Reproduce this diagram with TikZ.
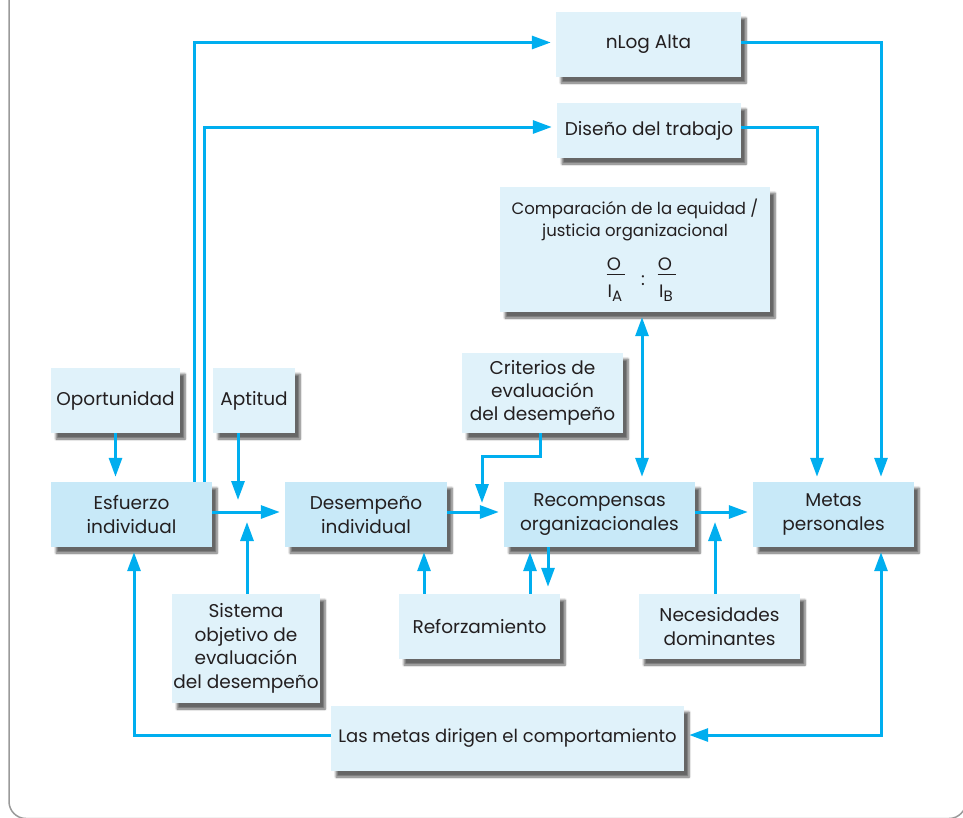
\documentclass[tikz,border=0pt]{standalone}
\usepackage{fontspec}
\setmainfont{Poppins}
\usetikzlibrary{arrows.meta,shadows.blur}
\definecolor{flow}{HTML}{00AEEF}
\definecolor{boxlight}{HTML}{E0F2FA}
\definecolor{boxmain}{HTML}{C8E9F8}
\definecolor{ink}{HTML}{231F20}
\definecolor{framegray}{HTML}{9A9A9A}
\begin{document}
\begin{tikzpicture}[x=1pt,y=-1pt,
  box/.style={fill=boxlight, text=ink, align=center, inner sep=0pt,
    font=\fontsize{18.5}{24}\selectfont,
    blur shadow={shadow xshift=5pt, shadow yshift=-6pt, shadow blur steps=6, shadow opacity=60}},
  mainbox/.style={box, fill=boxmain},
  label/.style={text=ink, align=center, inner sep=0pt, font=\fontsize{16.5}{22}\selectfont},
  ratio/.style={text=ink, inner sep=0pt, font=\fontsize{18}{22}\selectfont},
  link/.style={draw=flow, line width=3pt},
  tip/.tip={Triangle[length=19pt,width=13pt]},
  arr/.style={link, -tip, shorten >=5pt},
  biarr/.style={link, tip-tip, shorten >=5pt, shorten <=5pt},
]
\useasboundingbox (0,0) rectangle (963,817);

% outer panel border
\begin{scope}
  \clip (0,0) rectangle (963,817);
  \draw[framegray, line width=1.5pt, rounded corners=17pt] (9,-40) rectangle (966,818.5);
\end{scope}

% boxes
\node[box, minimum width=185pt, minimum height=65pt] (nlog) at (648.5,44.5) {nLog Alta};
\node[box, minimum width=184pt, minimum height=55pt] (diseno) at (649,130.5) {Diseño del trabajo};
\node[box, minimum width=270pt, minimum height=125pt] (comp) at (635,249.5) {};
\node[box, minimum width=161pt, minimum height=80pt, font=\fontsize{18.5}{23}\selectfont] (crit) at (542.5,393) {Criterios de\\evaluación\\del desempeño};
\node[box, minimum width=129pt, minimum height=65pt] (oport) at (115.5,400.5) {Oportunidad};
\node[box, minimum width=82pt, minimum height=65pt] (apt) at (254,400.5) {Aptitud};
\node[mainbox, minimum width=161pt, minimum height=65pt] (esf) at (131.5,514.5) {Esfuerzo\\individual};
\node[mainbox, minimum width=162pt, minimum height=65pt] (desemp) at (366,514.5) {Desempeño\\individual};
\node[mainbox, minimum width=191pt, minimum height=65pt] (recomp) at (599.5,514.5) {Recompensas\\organizacionales};
\node[mainbox, minimum width=161pt, minimum height=65pt] (metas) at (833.5,514.5) {Metas\\personales};
\node[box, minimum width=148pt, minimum height=109pt, font=\fontsize{18.5}{23.5}\selectfont] (sist) at (246,648.5) {Sistema\\objetivo de\\evaluación\\del desempeño};
\node[box, minimum width=161pt, minimum height=65pt] (refz) at (479.5,626.5) {Reforzamiento};
\node[box, minimum width=161pt, minimum height=65pt] (neces) at (719.5,626.5) {Necesidades\\dominantes};
\node[box, minimum width=353pt, minimum height=65pt, font=\fontsize{18}{24}\selectfont] (lasmetas) at (507.5,738.5) {Las metas dirigen el comportamiento};

% contents of the equity comparison box: title and the two output/input ratios
\node[label, anchor=base] (comptitle) at (635,236) {Comparación de la equidad /\\justicia organizacional};
\node[ratio, anchor=base] (oa) at (614,270) {O};
\node[ratio, anchor=base] (ob) at (665,270) {O};
\node[ratio, anchor=base] (ia) at (615,297) {I\raisebox{-4pt}{\fontsize{15}{15}\selectfont A}};
\node[ratio, anchor=base] (ib) at (666,297) {I\raisebox{-4pt}{\fontsize{15}{15}\selectfont B}};
\node[ratio, anchor=base] (colon) at (643,285) {:};
\draw[ink, line width=1.6pt] (oa.base west) ++(0,4.5) -- ++(18,0);
\draw[ink, line width=1.6pt] (ob.base west) ++(0,4.5) -- ++(18,0);

% routing coordinates
\coordinate (ymain) at (0,512);
\coordinate (ytop1) at (0,42.5);
\coordinate (ytop2) at (0,127);
\coordinate (ybot) at (0,735);
\coordinate (ycrit) at (0,456);
\coordinate (xup1) at (194,0);
\coordinate (xup2) at (204,0);
\coordinate (xapt) at (238,0);
\coordinate (xsis) at (247,0);
\coordinate (xcrit) at (540,0);
\coordinate (xcritin) at (482,0);
\coordinate (xcomp) at (642,0);
\coordinate (xrf1) at (424,0);
\coordinate (xrf2) at (530,0);
\coordinate (xrf3) at (548,0);
\coordinate (xnec) at (715,0);
\coordinate (xmet1) at (817,0);
\coordinate (xmet2) at (881,0);
\coordinate (xleft) at (134,0);

% connectors
\draw[arr] (oport.south) -- (oport.south |- esf.north);
\draw[arr] (esf.east |- ymain) -- (desemp.west |- ymain);
\draw[arr, shorten >=12pt] (apt.south -| xapt) -- (xapt |- ymain);
\draw[arr, shorten >=10pt] (sist.north -| xsis) -- (xsis |- ymain);
\draw[arr] (esf.north -| xup1) |- (nlog.west |- ytop1);
\draw[arr] (esf.north -| xup2) |- (diseno.west |- ytop2);
\draw[arr] (desemp.east |- ymain) -- (recomp.west |- ymain);
\draw[arr, shorten >=9pt] (crit.south -| xcrit) |- (xcritin |- ycrit) -- (xcritin |- ymain);
\draw[biarr] (comp.south -| xcomp) -- (recomp.north -| xcomp);
\draw[arr] (refz.north -| xrf1) -- (desemp.south -| xrf1);
\draw[arr] (refz.north -| xrf2) -- (recomp.south -| xrf2);
\draw[arr, shorten >=7pt] (recomp.south -| xrf3) -- (refz.north -| xrf3);
\draw[arr] (recomp.east |- ymain) -- (metas.west |- ymain);
\draw[arr, shorten >=10pt] (neces.north -| xnec) -- (xnec |- ymain);
\draw[arr] (nlog.east |- ytop1) -| (metas.north -| xmet2);
\draw[arr] (diseno.east |- ytop2) -| (metas.north -| xmet1);
\draw[biarr] (metas.south -| xmet2) |- (lasmetas.east |- ybot);
\draw[arr] (lasmetas.west |- ybot) -| (esf.south -| xleft);
\end{tikzpicture}
\end{document}
